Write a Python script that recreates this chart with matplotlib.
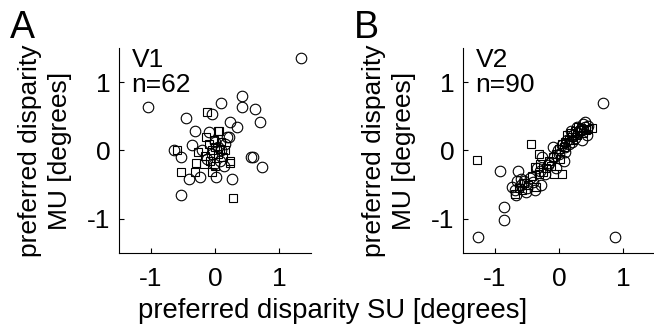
import matplotlib
matplotlib.use("Agg")
import matplotlib.pyplot as plt

plt.rcParams['font.family'] = ['Liberation Sans', 'DejaVu Sans']
plt.rcParams['axes.unicode_minus'] = False

# V1 (panel A): circles and squares, SU disparity vs MU disparity
v1_circ_x = [1.35, -1.04, -0.45, 0.10, 0.42, 0.42, 0.63, 0.70, 0.23, 0.35, -0.05, -0.32,
             -0.09, 0.19, 0.22, -0.36, -0.64, -0.53, 0.56, 0.59, 0.73, -0.40, -0.24, 0.01,
             0.27, -0.53, 0.14, 0.05, -0.05, 0.10, 0.00, -0.12, 0.15, -0.02, 0.08, -0.20]
v1_circ_y = [1.35, 0.64, 0.47, 0.70, 0.79, 0.64, 0.61, 0.41, 0.41, 0.34, 0.53, 0.29,
             0.27, 0.19, 0.20, 0.08, 0.01, -0.10, -0.09, -0.10, -0.24, -0.41, -0.39, -0.39,
             -0.42, -0.65, -0.22, 0.05, -0.05, 0.00, 0.12, -0.12, 0.10, -0.20, -0.15, 0.00]
v1_sq_x = [-0.12, 0.06, -0.14, 0.04, -0.59, -0.53, -0.30, -0.31, 0.23, 0.28, -0.04, -0.27,
           0.24, -0.10, 0.00, 0.05, -0.05, 0.10, -0.15, 0.12, -0.08, 0.00, 0.15, -0.02,
           -0.18, 0.08]
v1_sq_y = [0.57, 0.28, 0.20, 0.29, 0.01, -0.32, -0.19, -0.32, -0.18, -0.70, -0.32, -0.02,
           -0.15, 0.10, 0.05, -0.05, 0.00, 0.12, -0.08, -0.10, -0.15, -0.22, 0.00, 0.15,
           -0.20, 0.02]

# V2 (panel B)
v2_circ_x = [0.69, -1.27, 0.88, -0.92, -0.64, -0.86, -0.86, -0.69, -0.67, -0.51, -0.28, -0.26,
             -0.10, 0.08, 0.18, 0.36, 0.41, 0.44, -0.59, -0.74, -0.41, -0.18, -0.02, 0.13,
             0.28, -0.60, -0.55, -0.50, -0.45, -0.38, -0.30, -0.22, -0.15, -0.08, 0.00, 0.05,
             0.10, 0.16, 0.22, 0.25, 0.30, 0.35, 0.40, 0.46, 0.38, -0.05, 0.10, -0.35,
             -0.65, 0.20]
v2_circ_y = [0.70, -1.27, -1.27, -0.30, -0.30, -0.83, -1.01, -0.58, -0.65, -0.61, -0.51, -0.10,
             0.05, -0.15, 0.29, 0.15, 0.41, 0.22, -0.41, -0.53, -0.46, -0.21, 0.00, 0.15,
             0.34, -0.50, -0.45, -0.55, -0.40, -0.58, -0.30, -0.35, -0.18, -0.10, -0.05, 0.08,
             0.05, 0.10, 0.22, 0.18, 0.25, 0.30, 0.34, 0.36, 0.38, -0.25, -0.02, -0.25,
             -0.45, 0.12]
v2_sq_x = [-1.28, -0.44, -0.31, 0.05, -0.08, 0.51, -0.69, -0.38, -0.36, -0.20, -0.10, 0.05,
           0.12, 0.25, 0.35, -0.55, -0.62, -0.48, -0.30, -0.25, -0.15, -0.05, 0.00, 0.08,
           0.15, 0.20, 0.28, 0.32, 0.42, 0.45, -0.58, -0.42, -0.32, 0.02, 0.10, 0.18,
           0.22, -0.12, 0.30, 0.38]
v2_sq_y = [-0.14, 0.10, -0.05, -0.35, -0.34, 0.33, -0.63, -0.24, -0.53, -0.25, -0.10, 0.10,
           0.22, 0.28, 0.33, -0.48, -0.55, -0.50, -0.20, -0.32, -0.15, -0.05, 0.02, 0.05,
           0.15, 0.20, 0.22, 0.30, 0.30, 0.32, -0.58, -0.38, -0.35, -0.12, 0.12, 0.25,
           0.15, -0.22, 0.35, 0.25]

ticks = [-1, 0, 1]
panels = [
    ('A', 'V1\nn=62', v1_circ_x, v1_circ_y, v1_sq_x, v1_sq_y, 0.182),
    ('B', 'V2\nn=90', v2_circ_x, v2_circ_y, v2_sq_x, v2_sq_y, 0.708),
]

fig = plt.figure(figsize=(6.54, 3.25), dpi=100)
fs = 19

for letter, txt, cx, cy, sx, sy, left in panels:
    ax = fig.add_axes([left, 0.2215, 0.2936, 0.631])
    ax.plot(cx, cy, 'o', ms=7.6, mfc='none', mec='black', mew=0.8, linestyle='none')
    ax.plot(sx, sy, 's', ms=5.6, mfc='none', mec='black', mew=0.8, linestyle='none')
    ax.set_xlim(-1.5, 1.5)
    ax.set_ylim(-1.5, 1.5)
    ax.set_xticks(ticks)
    ax.set_yticks(ticks)
    ax.spines['top'].set_visible(False)
    ax.spines['right'].set_visible(False)
    for s in ['left', 'bottom']:
        ax.spines[s].set_linewidth(0.8)
    ax.tick_params(direction='in', length=3.5, width=0.8, labelsize=fs)
    ax.tick_params(axis='x', pad=10)
    ax.tick_params(axis='y', pad=6)
    ax.set_ylabel('preferred disparity\nMU [degrees]', fontsize=fs, linespacing=1.3)
    ax.yaxis.set_label_coords(-0.245, 0.5)
    ax.text(0.065, 1.0, txt, transform=ax.transAxes, fontsize=fs, va='top', ha='left',
            linespacing=1.05)
    fig.text(left - 0.147, 0.968, letter, fontsize=27, ha='center', va='top')

fig.text(0.508, 0.022, 'preferred disparity SU [degrees]', fontsize=19.8, ha='center',
         va='baseline')

fig.savefig('out.png', dpi=100)
